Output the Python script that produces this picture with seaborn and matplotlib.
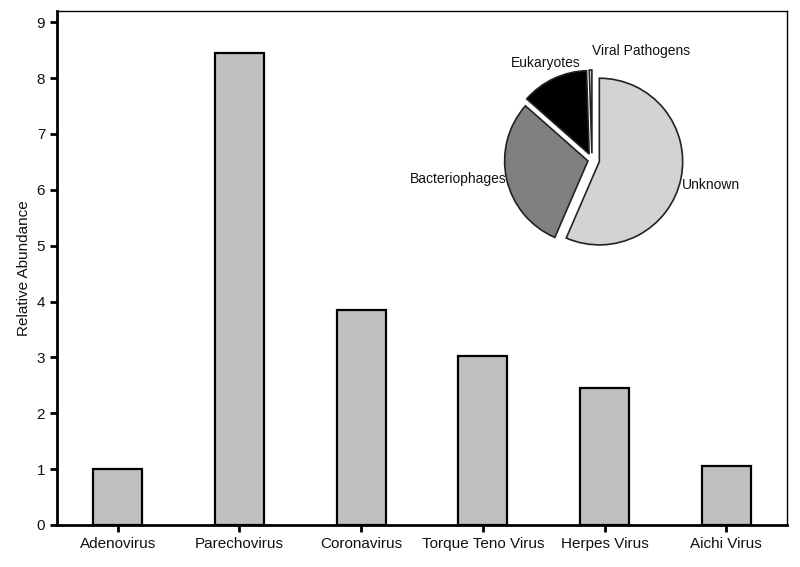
import numpy as np
import pandas as pd
import matplotlib
matplotlib.use('Agg')
import matplotlib.pyplot as plt
import seaborn as sns

viruses = ['Adenovirus', 'Parechovirus', 'Coronavirus', 'Torque Teno Virus',
           'Herpes Virus', 'Aichi Virus']
abundance = [1.0, 8.45, 3.85, 3.03, 2.46, 1.05]

pie_labels = ['Unknown', 'Bacteriophages', 'Eukaryotes', 'Viral Pathogens']
pie_shares = [56.5, 30.0, 13.0, 0.5]
pie_colors = ['#d3d3d3', '#808080', '#000000', '#ffffff']

sns.set_style('ticks')
plt.rcParams['font.family'] = ['Liberation Sans', 'DejaVu Sans']

df = pd.DataFrame({'virus': viruses, 'abundance': abundance})

fig = plt.figure(figsize=(8, 5.67), dpi=100)
ax = fig.add_axes([0.07125, 0.0741, 0.9125, 0.9065])
sns.barplot(data=df, x='virus', y='abundance', color='#c0c0c0', saturation=1,
            edgecolor='black', linewidth=1.6, width=0.4, ax=ax)
ax.set_xlim(-0.5, 5.5)
ax.set_ylim(0, 9.2)
ax.set_yticks(range(0, 10))
ax.set_xlabel('')
ax.set_ylabel('Relative Abundance', fontsize=11, color='#111111')
ax.tick_params(axis='both', labelsize=11, direction='out', length=5, width=2,
               color='black', labelcolor='#111111')
for s in ['left', 'bottom']:
    ax.spines[s].set_linewidth(2)
    ax.spines[s].set_color('black')
for s in ['top', 'right']:
    ax.spines[s].set_visible(True)
    ax.spines[s].set_linewidth(1)
    ax.spines[s].set_color('black')

# inset pie
pax = fig.add_axes([0.615, 0.5414, 0.25, 0.3527])
pax.pie(pie_shares, colors=pie_colors, startangle=90, counterclock=False,
        explode=[0.09, 0.05, 0.08, 0.08],
        wedgeprops={'edgecolor': '#222222', 'linewidth': 1.2})
pax.set_xlim(-1.2, 1.2)
pax.set_ylim(-1.2, 1.2)
pax.set_aspect('equal')
pax.axis('off')

txt = dict(fontsize=10, color='#111111')
pax.text(1.08, -0.30, 'Unknown', ha='left', va='center', **txt)
pax.text(-1.02, -0.23, 'Bacteriophages', ha='right', va='center', **txt)
pax.text(-0.55, 1.17, 'Eukaryotes', ha='center', va='center', **txt)
pax.text(0.0, 1.31, 'Viral Pathogens', ha='left', va='center', **txt)

fig.savefig('out.png', dpi=100)
